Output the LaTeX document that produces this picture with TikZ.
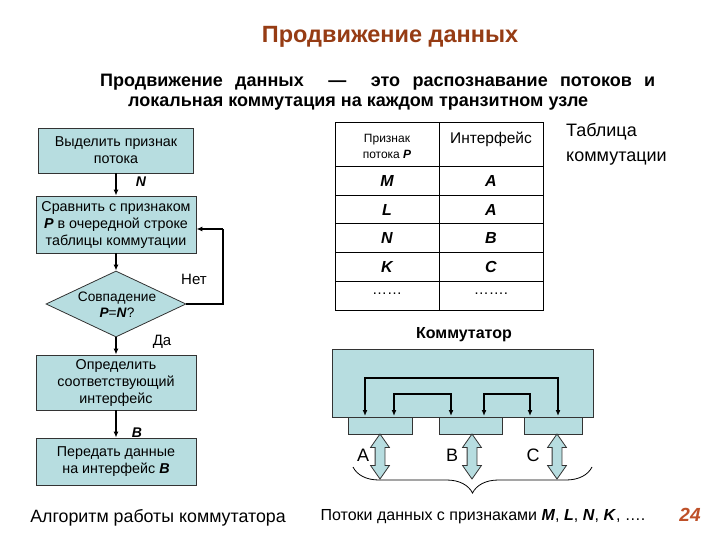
\documentclass[tikz,border=0pt]{standalone}
\usepackage{fontspec}
\setmainfont{Liberation Sans}
\usetikzlibrary{arrows.meta,shapes.geometric,shapes.arrows,decorations.pathreplacing}
\definecolor{boxfill}{RGB}{183,221,224}
\definecolor{titlecol}{RGB}{150,60,20}
\definecolor{pagenum}{RGB}{190,80,40}
\newcommand{\fsz}[2]{\fontsize{#1}{#2}\selectfont}
\newcommand{\bi}[1]{\textbf{\textit{#1}}}
\begin{document}
\begin{tikzpicture}[x=1pt,y=-1pt,
  fbox/.style={draw=black!80, fill=boxfill, line width=0.8pt, align=center, inner sep=0pt, font=\fsz{14.3}{17}},
  flow/.style={line width=1.2pt, -{Latex[length=6pt,width=5pt]}},
  biflow/.style={line width=1.2pt, {Latex[length=6pt,width=5pt]}-{Latex[length=6pt,width=5pt]}},
  lbl/.style={inner sep=0pt, font=\fsz{14}{16}},
  dar/.style={double arrow, draw=black!80, fill=boxfill, line width=0.8pt, rotate=90, minimum height=45pt, inner sep=4.5pt, double arrow head extend=4.5pt, double arrow tip angle=70},
  cell/.style={inner sep=0pt, font=\fsz{16}{18}\bfseries\itshape},
  txt/.style={inner sep=0pt}
]
\useasboundingbox[fill=white] (0,0) rectangle (720,540);

% Title and subtitle
\node[txt, font=\fsz{23.5}{27}\bfseries, text=titlecol] (title) at (390,37) {Продвижение данных};
\node[txt, anchor=west, font=\fsz{18}{21}\bfseries] (sub1) at (100,82) {\makebox[555pt][s]{Продвижение данных \ — \ это распознавание потоков и}};
\node[txt, anchor=west, font=\fsz{18}{21}\bfseries] (sub2) at (128,104) {локальная коммутация на каждом транзитном узле};

% Flowchart
\node[fbox, minimum width=155pt, minimum height=45pt] (b1) at (116,150.5) {Выделить признак\\потока};
\node[fbox, minimum width=160pt, minimum height=57pt] (b2) at (116,224.5) {Сравнить с признаком\\\textbf{\textit{P}} в очередной строке\\таблицы коммутации};
\node[diamond, draw=black!80, fill=boxfill, line width=0.8pt, minimum width=140pt, minimum height=66pt, inner sep=0pt, aspect=2.1] (dia) at (116,304) {};
\node[txt, align=center, font=\fsz{13.7}{16}] (dtext) at (117,305) {Совпадение\\\bi{P}=\bi{N}?};
\node[fbox, minimum width=160pt, minimum height=55pt] (b3) at (116,382.5) {Определить\\соответствующий\\интерфейс};
\node[fbox, minimum width=160pt, minimum height=47pt] (b4) at (116,461.5) {Передать данные\\на интерфейс \bi{B}};

\draw[flow] (b1.south) -- (b2.north);
\draw[flow] (b2.south) -- (dia.north);
\draw[flow] (dia.south) -- (b3.north);
\draw[flow] (b3.south) -- (b4.north);
\coordinate (lp) at (223,229);
\draw[line width=1.2pt] (dia.east) -| (lp);
\draw[flow] (lp) -- ([yshift=-4.5pt]b2.east);

\node[lbl] (lN) at (141,182) {\bi{N}};
\node[lbl, font=\fsz{15}{17}] (lno) at (194,279) {Нет};
\node[lbl, font=\fsz{15}{17}] (lda) at (162,342) {Да};
\node[lbl] (lB) at (137,433) {\bi{B}};
\node[txt, font=\fsz{17.8}{20}] (cap1) at (158,518) {Алгоритм работы коммутатора};

% Table
\draw[line width=1pt] (335,123) rectangle (543,310);
\draw[line width=0.8pt] (439,123) -- (439,310);
\foreach \yy in {166,195,223,252,281} \draw[line width=0.8pt] (335,\yy) -- (543,\yy);
\node[txt, align=center, font=\fsz{12}{16}] (h1) at (387,146) {Признак\\потока \bi{P}};
\node[txt, font=\fsz{15.5}{18}] (h2) at (491,139) {Интерфейс};
\node[cell] (c11) at (387,181) {M};
\node[cell] (c12) at (491,181) {A};
\node[cell] (c21) at (387,210) {L};
\node[cell] (c22) at (491,210) {A};
\node[cell] (c31) at (387,238) {N};
\node[cell] (c32) at (491,238) {B};
\node[cell] (c41) at (387,267) {K};
\node[cell] (c42) at (491,267) {C};
\node[txt, font=\fsz{15}{16}] (c51) at (387,294) {……};
\node[txt, font=\fsz{15}{16}] (c52) at (491,294) {…….};
\node[txt, anchor=west, align=left, font=\fsz{18}{25}] (ttl) at (566,144) {Таблица\\коммутации};

% Switch
\node[txt, font=\fsz{16}{18}\bfseries] (swl) at (464,335) {Коммутатор};
\node[draw=black!80, fill=boxfill, line width=0.8pt, minimum width=261pt, minimum height=68pt, inner sep=0pt] (sw) at (462.5,383) {};
\node[draw=black!80, fill=boxfill, line width=0.8pt, minimum width=64pt, minimum height=17pt, inner sep=0pt] (pA) at (380,425.5) {};
\node[draw=black!80, fill=boxfill, line width=0.8pt, minimum width=63pt, minimum height=17pt, inner sep=0pt] (pB) at (470.5,425.5) {};
\node[draw=black!80, fill=boxfill, line width=0.8pt, minimum width=58pt, minimum height=17pt, inner sep=0pt] (pC) at (553,425.5) {};
\draw[biflow] (365,416) |- (558,378) -- (558,416);
\draw[biflow] (394,416) |- (451,394) -- (451,416);
\draw[biflow] (484,416) |- (530,394) -- (530,416);

\node[dar] (dA) at (380,456.5) {};
\node[dar] (dB) at (472,456.5) {};
\node[dar] (dC) at (557,456.5) {};
\node[txt, font=\fsz{18}{20}] (lA) at (363,455) {A};
\node[txt, font=\fsz{18}{20}] (lBB) at (452,455) {B};
\node[txt, font=\fsz{18}{20}] (lC) at (533,455) {C};

\draw[line width=0.8pt, decorate, decoration={brace, amplitude=26pt}] (592,467) -- (353,467);
\node[txt, font=\fsz{16}{18}] (cap2) at (483,517) {Потоки данных с признаками \bi{M}, \bi{L}, \bi{N}, \bi{K}, ….};
\node[txt, font=\fsz{19}{22}\bfseries\itshape, text=pagenum] (pn) at (690,515) {24};
\end{tikzpicture}
\end{document}
